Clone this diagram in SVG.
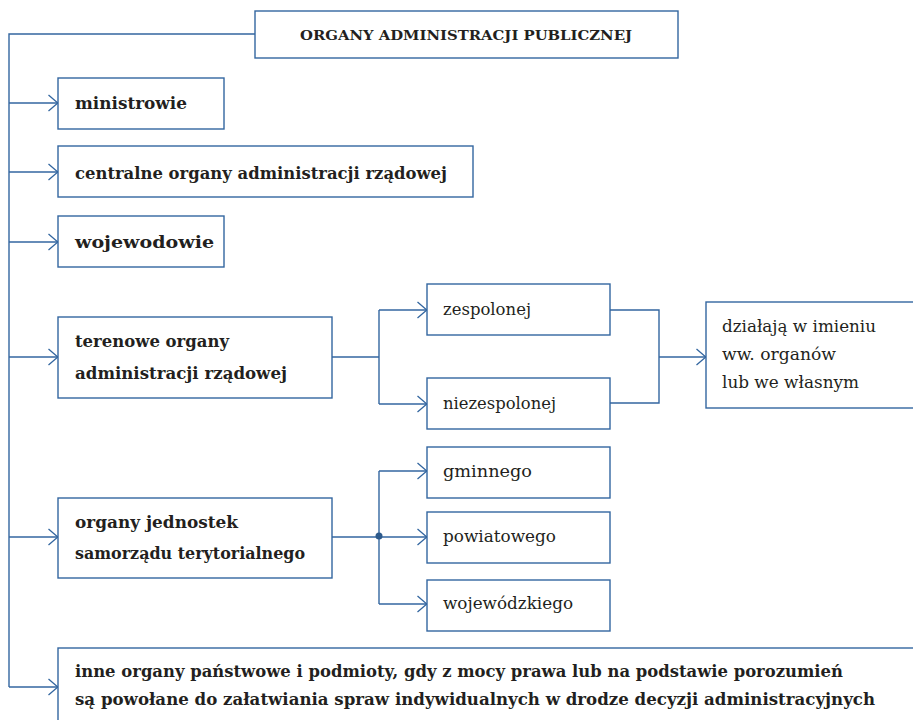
<svg xmlns="http://www.w3.org/2000/svg" width="913" height="720" viewBox="0 0 913 720">
<style>
.box{fill:#fff;stroke:#3366a0;stroke-width:1.4}
.ln{fill:none;stroke:#3366a0;stroke-width:1.4}
.t{font-family:"DejaVu Serif","Liberation Serif",serif;font-size:17px;fill:#231f20}
.b{font-weight:bold}
.title{font-family:"DejaVu Serif","Liberation Serif",serif;font-size:13.5px;font-weight:bold;fill:#231f20}
</style>
<defs>
<marker id="arr" viewBox="0 0 11 18" refX="10.5" refY="9" markerWidth="11" markerHeight="18" markerUnits="userSpaceOnUse" orient="auto">
<path d="M1,1 L10.3,9 L1,17" fill="none" stroke="#3366a0" stroke-width="1.3"/>
</marker>
</defs>
<g id="connectors">
<path class="ln" d="M255,34 H9 V687"/>
<path class="ln" d="M9,103 H58" marker-end="url(#arr)"/>
<path class="ln" d="M9,172 H58" marker-end="url(#arr)"/>
<path class="ln" d="M9,242 H58" marker-end="url(#arr)"/>
<path class="ln" d="M9,357 H58" marker-end="url(#arr)"/>
<path class="ln" d="M9,537 H58" marker-end="url(#arr)"/>
<path class="ln" d="M9,687 H58" marker-end="url(#arr)"/>
<path class="ln" d="M332,357 H379"/>
<path class="ln" d="M379,310 V404"/>
<path class="ln" d="M379,310 H427" marker-end="url(#arr)"/>
<path class="ln" d="M379,404 H427" marker-end="url(#arr)"/>
<path class="ln" d="M610,310 H659 V403 H610"/>
<path class="ln" d="M659,357 H706" marker-end="url(#arr)"/>
<path class="ln" d="M332,537 H379"/>
<path class="ln" d="M379,471 V604"/>
<path class="ln" d="M379,471 H427" marker-end="url(#arr)"/>
<path class="ln" d="M379,537 H427" marker-end="url(#arr)"/>
<path class="ln" d="M379,604 H427" marker-end="url(#arr)"/>
<circle cx="379" cy="536" r="3.5" fill="#2d5a8c"/>
</g>
<g id="title">
<rect class="box" x="255" y="11" width="423" height="47"/>
<text class="title" x="466" y="40" text-anchor="middle" textLength="332" lengthAdjust="spacingAndGlyphs">ORGANY ADMINISTRACJI PUBLICZNEJ</text>
</g>
<g id="ministrowie">
<rect class="box" x="58" y="78" width="166" height="51"/>
<text class="t b" x="75" y="109" textLength="112" lengthAdjust="spacingAndGlyphs">ministrowie</text>
</g>
<g id="centralne">
<rect class="box" x="58" y="146" width="415" height="51"/>
<text class="t b" x="75" y="179" textLength="372" lengthAdjust="spacingAndGlyphs">centralne organy administracji rządowej</text>
</g>
<g id="wojewodowie">
<rect class="box" x="58" y="216" width="166" height="51"/>
<text class="t b" x="75" y="248" textLength="139" lengthAdjust="spacingAndGlyphs">wojewodowie</text>
</g>
<g id="terenowe">
<rect class="box" x="58" y="317" width="274" height="81"/>
<text class="t b" x="75" y="347" textLength="154" lengthAdjust="spacingAndGlyphs">terenowe organy</text>
<text class="t b" x="75" y="379" textLength="212" lengthAdjust="spacingAndGlyphs">administracji rządowej</text>
</g>
<g id="zespolonej">
<rect class="box" x="427" y="284" width="183" height="51"/>
<text class="t" x="443" y="315" textLength="88" lengthAdjust="spacingAndGlyphs">zespolonej</text>
</g>
<g id="niezespolonej">
<rect class="box" x="427" y="378" width="183" height="51"/>
<text class="t" x="443" y="409" textLength="113" lengthAdjust="spacingAndGlyphs">niezespolonej</text>
</g>
<g id="dzialaja">
<rect class="box" x="706" y="302" width="215" height="106"/>
<text class="t" x="722" y="332" textLength="154" lengthAdjust="spacingAndGlyphs">działają w imieniu</text>
<text class="t" x="722" y="360" textLength="114" lengthAdjust="spacingAndGlyphs">ww. organów</text>
<text class="t" x="722" y="388" textLength="137" lengthAdjust="spacingAndGlyphs">lub we własnym</text>
</g>
<g id="jednostki">
<rect class="box" x="58" y="498" width="274" height="80"/>
<text class="t b" x="75" y="528" textLength="163" lengthAdjust="spacingAndGlyphs">organy jednostek</text>
<text class="t b" x="75" y="559" textLength="230" lengthAdjust="spacingAndGlyphs">samorządu terytorialnego</text>
</g>
<g id="gminnego">
<rect class="box" x="427" y="447" width="183" height="51"/>
<text class="t" x="443" y="477" textLength="89" lengthAdjust="spacingAndGlyphs">gminnego</text>
</g>
<g id="powiatowego">
<rect class="box" x="427" y="512" width="183" height="51"/>
<text class="t" x="443" y="542" textLength="113" lengthAdjust="spacingAndGlyphs">powiatowego</text>
</g>
<g id="wojewodzkiego">
<rect class="box" x="427" y="580" width="183" height="51"/>
<text class="t" x="443" y="609" textLength="130" lengthAdjust="spacingAndGlyphs">wojewódzkiego</text>
</g>
<g id="inne">
<rect class="box" x="58" y="648" width="870" height="90"/>
<text class="t b" x="75" y="677" textLength="768" lengthAdjust="spacingAndGlyphs">inne organy państwowe i podmioty, gdy z mocy prawa lub na podstawie porozumień</text>
<text class="t b" x="75" y="705" textLength="800" lengthAdjust="spacingAndGlyphs">są powołane do załatwiania spraw indywidualnych w drodze decyzji administracyjnych</text>
</g>
</svg>
